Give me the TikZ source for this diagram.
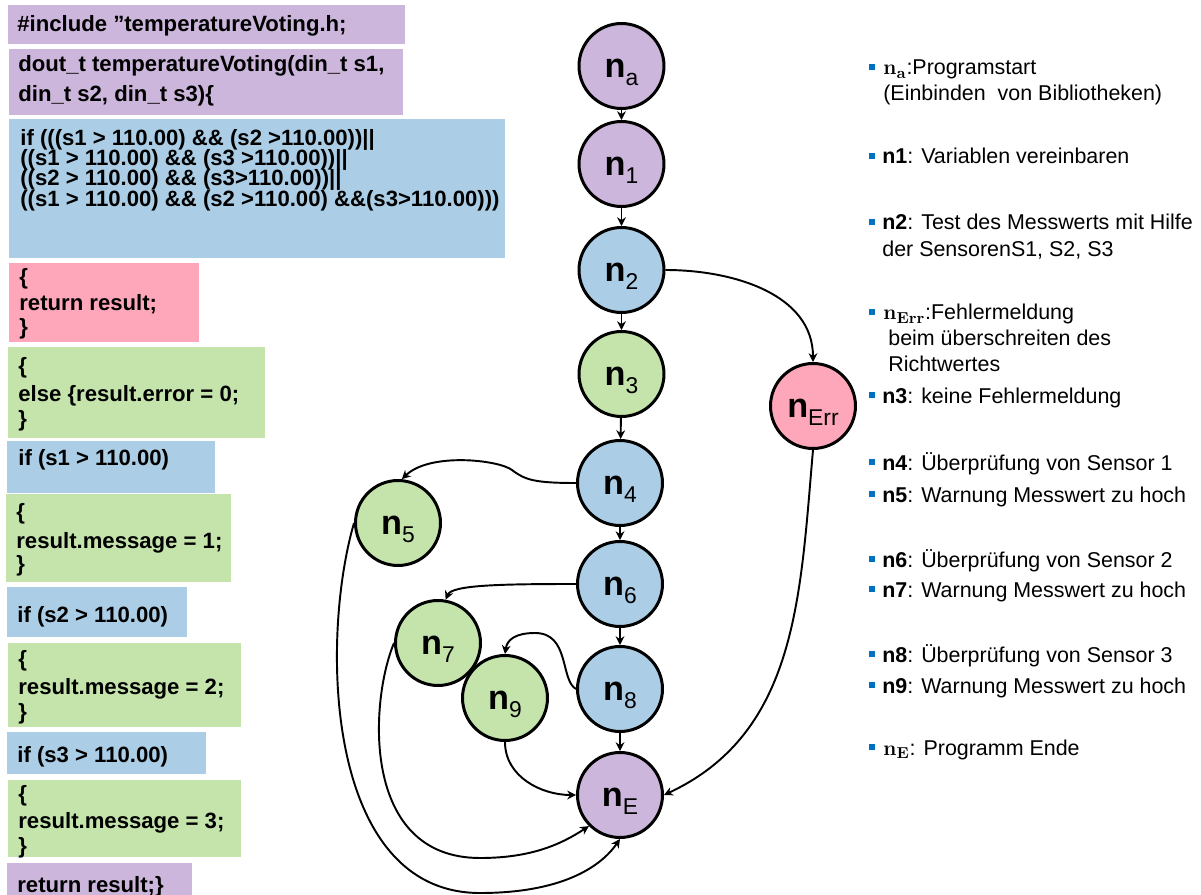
\documentclass[tikz,border=0pt]{standalone}
\usepackage[no-math]{fontspec}
\setmainfont{Liberation Sans}
\usetikzlibrary{arrows.meta}

\definecolor{lav}{RGB}{204,182,220}
\definecolor{sky}{RGB}{171,206,230}
\definecolor{leaf}{RGB}{196,228,172}
\definecolor{rose}{RGB}{255,167,186}
\definecolor{bul}{RGB}{0,112,192}

% node label: bold n with a lowered index
\newcommand\nlab[1]{\textbf{n}\raisebox{-4.8pt}{\fontsize{13pt}{13pt}\selectfont #1}}
% legend bullet at a given baseline
\newcommand\legbullet[1]{\fill[bul] (869,#1-11) rectangle (875,#1-5);}

\tikzset{
  code/.style={anchor=base west, inner sep=0pt, font=\bfseries\fontsize{12.6pt}{14pt}\selectfont},
  leg/.style={anchor=base west, inner sep=0pt, font=\fontsize{12.2pt}{14pt}\selectfont},
  state/.style={circle, draw=black, line width=1.7pt, minimum size=1.7cm, inner sep=0pt,
    text height=0.46cm, text depth=0pt, font=\fontsize{19.5pt}{21pt}\selectfont},
  flow/.style={line width=1.1pt, -{Stealth[length=5pt,width=5pt]}},
}

\begin{document}
\begin{tikzpicture}[x=0.02cm, y=-0.02cm]
\useasboundingbox (0,0) rectangle (1201,895);

% ---------- source code blocks ----------
\fill[lav]  (8,5)   rectangle (405,44);
\fill[lav]  (9,49)  rectangle (403,115);
\fill[sky]  (9,119) rectangle (505,258);
\fill[rose] (9,263) rectangle (199,342);
\fill[leaf] (8,347) rectangle (265,438);
\fill[sky]  (7,441) rectangle (215,493);
\fill[leaf] (6,494) rectangle (231,582);
\fill[sky]  (7,587) rectangle (187,637);
\fill[leaf] (8,643) rectangle (241,727);
\fill[sky]  (7,732) rectangle (206,774);
\fill[leaf] (8,780) rectangle (241,857);
\fill[lav]  (7,863) rectangle (192,895);

\node[code] (c1)  at (17,32)  {\#include \symbol{34}temperatureVoting.h;};
\node[code] (c2a) at (18,72)  {dout\_t temperatureVoting(din\_t s1,};
\node[code] (c2b) at (18,102) {din\_t s2, din\_t s3)\{};
\node[code] (c3a) at (20,146) {if (((s1 > 110.00) \&\& (s2 >110.00))||};
\node[code] (c3b) at (20,166) {((s1 > 110.00) \&\& (s3 >110.00))||};
\node[code] (c3c) at (20,186) {((s2 > 110.00) \&\& (s3>110.00))||};
\node[code] (c3d) at (20,207) {((s1 > 110.00) \&\& (s2 >110.00) \&\&(s3>110.00)))};
\node[code] (c4a) at (19,285) {\{};
\node[code] (c4b) at (19,311) {return result;};
\node[code] (c4c) at (19,335) {\}};
\node[code] (c5a) at (18,374) {\{};
\node[code] (c5b) at (18,401) {else \{result.error = 0;};
\node[code] (c5c) at (18,426) {\}};
\node[code] (c6)  at (18,465) {if (s1 > 110.00)};
\node[code] (c7a) at (16,519) {\{};
\node[code] (c7b) at (16,548) {result.message = 1;};
\node[code] (c7c) at (16,571) {\}};
\node[code] (c8)  at (17,622) {if (s2 > 110.00)};
\node[code] (c9a) at (18,666) {\{};
\node[code] (c9b) at (18,694) {result.message = 2;};
\node[code] (c9c) at (18,719) {\}};
\node[code] (c10) at (17,762) {if (s3 > 110.00)};
\node[code] (c11a) at (18,801) {\{};
\node[code] (c11b) at (18,828) {result.message = 3;};
\node[code] (c11c) at (18,853) {\}};
\node[code] (c12) at (17,892) {return result;\}};

% ---------- control flow graph ----------
\node[state, fill=lav]  (na)   at (621.5,66)  {\nlab{a}};
\node[state, fill=lav]  (n1)   at (621.5,164) {\nlab{1}};
\node[state, fill=sky]  (n2)   at (621.5,270) {\nlab{2}};
\node[state, fill=leaf] (n3)   at (621.5,374) {\nlab{3}};
\node[state, fill=sky]  (n4)   at (620,483)   {\nlab{4}};
\node[state, fill=sky]  (n6)   at (620,584)   {\nlab{6}};
\node[state, fill=sky]  (n8)   at (620,689)   {\nlab{8}};
\node[state, fill=lav]  (nE)   at (620,795)   {\nlab{E}};
\node[state, fill=leaf] (n5)   at (398,523)   {\nlab{5}};
\node[state, fill=leaf] (n7)   at (438,643)   {\nlab{7}};
\node[state, fill=leaf] (n9)   at (505,698)   {\nlab{9}};
\node[state, fill=rose] (nErr) at (813,406)   {\nlab{Err}};

\coordinate (k45) at (512,470);
\coordinate (k89) at (535,633);
\coordinate (k5b) at (480,893);
\coordinate (k7b) at (480,858);

\draw[flow] (na) -- (n1);
\draw[flow] (n1) -- (n2);
\draw[flow] (n2) -- (n3);
\draw[flow] (n3) -- (n4);
\draw[flow] (n4) -- (n6);
\draw[flow] (n6) -- (n8);
\draw[flow] (n8) -- (nE);

\draw[flow] (n2.east) to[out=0,in=90] (nErr.north);
\draw[flow] (nErr.south) to[out=-95,in=25] (nE.east);

\draw[flow] (n4.west) .. controls (535,483) and (525,480) .. (k45)
  .. controls (499,460) and (430,452) .. (n5.85);
\draw[flow] (n6.west) .. controls (500,584) and (452,585) .. (n7.80);
\draw[flow] (n8.west) .. controls (560,680) and (570,633) .. (k89)
  .. controls (515,633) and (507,640) .. (n9.north);
\draw[flow] (n9.south) to[out=-90,in=180] (nE.west);

\draw[flow] (n5.west) .. controls (320,640) and (325,893) .. (k5b)
  .. controls (560,893) and (600,868) .. (nE.south);
\draw[flow] (n7.west) .. controls (370,700) and (360,858) .. (k7b)
  .. controls (530,858) and (560,845) .. (nE.225);

% ---------- legend ----------
\legbullet{75}
\node[leg] (la)  at (883,75)  {$\mathbf{n}_{\mathbf{a}}$:Programstart};
\node[leg] (la2) at (883,101) {(Einbinden~~von Bibliotheken)};
\legbullet{164}
\node[leg] (l1)  at (882,164) {\textbf{n1}: Variablen vereinbaren};
\legbullet{230}
\node[leg] (l2)  at (882,230) {\textbf{n2}: Test des Messwerts mit Hilfe};
\node[leg] (l2b) at (882,257) {der SensorenS1, S2, S3};
\legbullet{320}
\node[leg] (lE)  at (883,320) {$\mathbf{n}_{\mathbf{Err}}$:Fehlermeldung};
\node[leg] (lE2) at (888,346) {beim überschreiten des};
\node[leg] (lE3) at (888,372) {Richtwertes};
\legbullet{403}
\node[leg] (l3)  at (882,403) {\textbf{n3}: keine Fehlermeldung};
\legbullet{470}
\node[leg] (l4)  at (882,470) {\textbf{n4}: Überprüfung von Sensor 1};
\legbullet{502}
\node[leg] (l5)  at (882,502) {\textbf{n5}: Warnung Messwert zu hoch};
\legbullet{567}
\node[leg] (l6)  at (882,567) {\textbf{n6}: Überprüfung von Sensor 2};
\legbullet{597}
\node[leg] (l7)  at (882,597) {\textbf{n7}: Warnung Messwert zu hoch};
\legbullet{662}
\node[leg] (l8)  at (882,662) {\textbf{n8}: Überprüfung von Sensor 3};
\legbullet{693}
\node[leg] (l9)  at (882,693) {\textbf{n9}: Warnung Messwert zu hoch};
\legbullet{755}
\node[leg] (lEnd) at (883,755) {$\mathbf{n}_{\mathbf{E}}$: Programm Ende};
\end{tikzpicture}
\end{document}
